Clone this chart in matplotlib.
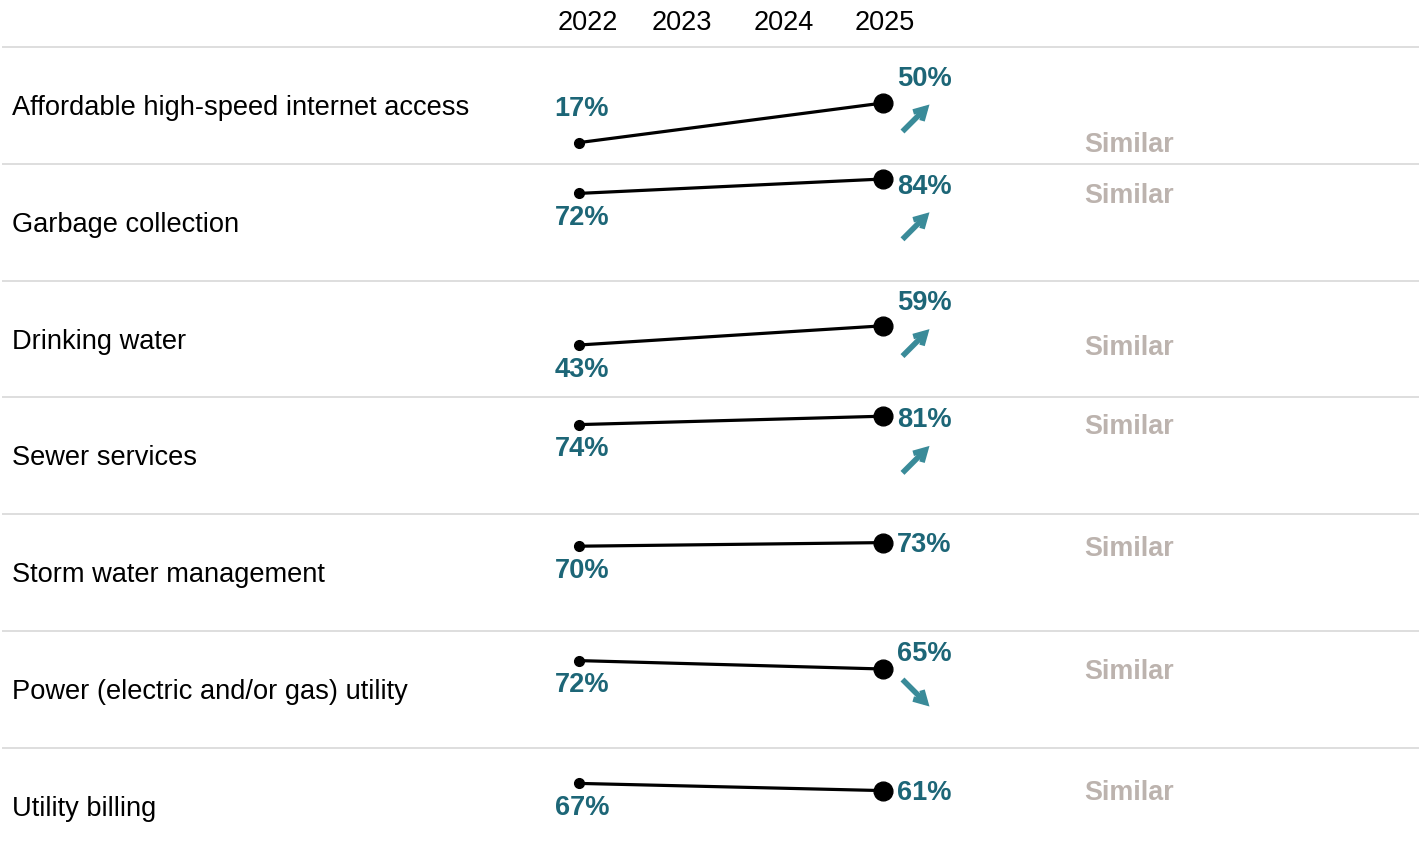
import matplotlib
matplotlib.use("Agg")
import matplotlib.pyplot as plt

plt.rcParams['font.family'] = ['Liberation Sans', 'DejaVu Sans']

categories = [
    "Affordable high-speed internet access",
    "Garbage collection",
    "Drinking water",
    "Sewer services",
    "Storm water management",
    "Power (electric and/or gas) utility",
    "Utility billing",
]
years = [2022, 2023, 2024, 2025]
values_2022 = [17, 72, 43, 74, 70, 72, 67]
values_2025 = [50, 84, 59, 81, 73, 65, 61]
trend = ["up", "up", "up", "up", None, "down", None]
comparison = ["Similar"] * 7

TEAL = "#1d6677"
ARROW = "#3a8b99"
GREY = "#bcb3ae"
RULE = "#d8d8d8"

# layout: x in years, y in rows (row i spans i..i+1, downwards)
PXX = 101.33          # pixels per year
PXY = 116.8           # pixels per row
X0 = 2022 - 579 / PXX
X1 = X0 + 1424 / PXX
Y0 = -47 / PXY
Y1 = Y0 + 861 / PXY


def ypos(i, v):
    return i + (116 - 1.2 * v) / PXY


def dx(px):
    return px / PXX


def dy(px):
    return px / PXY


fig = plt.figure(figsize=(14.24, 8.61), dpi=100)
ax = fig.add_axes([0, 0, 1, 1])
ax.set_xlim(X0, X1)
ax.set_ylim(Y1, Y0)
ax.axis('off')

# year header
for yr in years:
    off = dx(9) if yr == years[0] else dx(2)
    ax.text(yr + off, dy(-17), str(yr), ha='center', va='baseline', fontsize=19.5, color='black')

# row rules
for i in range(len(categories)):
    ax.plot([X0 + dx(2), X0 + dx(1419)], [i, i], color=RULE, lw=1.2, solid_capstyle='butt', zorder=1)

for i, cat in enumerate(categories):
    v0, v1 = values_2022[i], values_2025[i]
    y0, y1 = ypos(i, v0), ypos(i, v1)

    ax.text(X0 + dx(12), i + dy(68), cat, ha='left', va='baseline', fontsize=19.6, color='black')

    ax.plot([2022, 2025], [y0, y1], color='black', lw=2.3, zorder=3)
    ax.plot(2022, y0, 'o', color='black', ms=7, zorder=4)
    ax.plot(2025, y1, 'o', color='black', ms=13.5, zorder=4)

    # 2022 label: below the dot unless it would fall out of the row
    p0 = (y0 - i) * PXY
    c0 = p0 - 36 if p0 + 22 > 100 else p0 + 22
    ax.text(2022 + dx(3), i + dy(c0 + 9.8), f"{v0}%", ha='center', va='baseline',
            fontsize=19.6, fontweight='bold', color=TEAL)

    # 2025 label: lifted above the dot when an arrow sits under it
    p1 = (y1 - i) * PXY
    c1 = max(p1 - 27, 20) if trend[i] else p1
    ax.text(2025 + dx(14), i + dy(c1 + 9.8), f"{v1}%", ha='left', va='baseline',
            fontsize=19.6, fontweight='bold', color=TEAL)

    if trend[i]:
        cx, cy = 2025 + dx(33), i + dy(c1 + 42)
        s = -1 if trend[i] == "up" else 1
        ax.annotate('', xy=(cx + dx(13.5), cy + s * dy(13.5)), xytext=(cx - dx(13.5), cy - s * dy(13.5)),
                    arrowprops=dict(arrowstyle='->,head_length=0.8,head_width=0.45',
                                    lw=4.0, color=ARROW, shrinkA=0, shrinkB=0,
                                    capstyle='butt', joinstyle='miter'))

    ax.text(2022 + dx(1129 - 579), max(y0, y1) + dy(9.6), comparison[i], ha='center', va='baseline',
            fontsize=19.4, fontweight='bold', color=GREY)

fig.savefig("out.png", dpi=100)
